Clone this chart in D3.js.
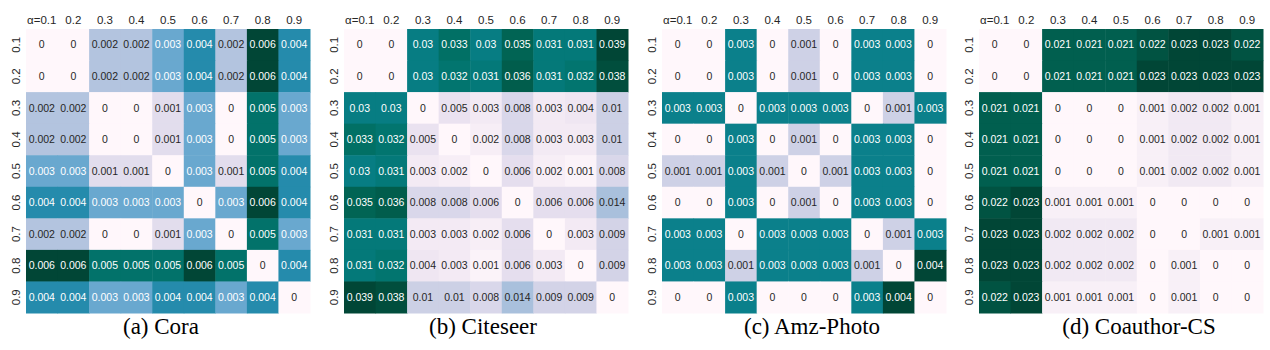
<!DOCTYPE html>
<html>
<head>
<meta charset="utf-8">
<script src="https://cdn.jsdelivr.net/npm/d3@7"></script>
<style>
  body { margin: 0; background: #fff; }
  svg { display: block; }
  .tick text { font-family: "Liberation Sans", Arial, sans-serif; font-size: 11.5px; fill: #262626; }
  .cellText { font-family: "Liberation Sans", Arial, sans-serif; font-size: 10.5px; }
</style>
</head>
<body>
<div id="chart"></div>
<script>
// data vars
const alphas = [0.1, 0.2, 0.3, 0.4, 0.5, 0.6, 0.7, 0.8, 0.9];
const colLabels = ["α=0.1", "0.2", "0.3", "0.4", "0.5", "0.6", "0.7", "0.8", "0.9"];
const rowLabels = ["0.1", "0.2", "0.3", "0.4", "0.5", "0.6", "0.7", "0.8", "0.9"];
const captions = ["(a) Cora", "(b) Citeseer", "(c) Amz-Photo", "(d) Coauthor-CS"];

const coraValues = [
  [0, 0, .002, .002, .003, .004, .002, .006, .004],
  [0, 0, .002, .002, .003, .004, .002, .006, .004],
  [.002, .002, 0, 0, .001, .003, 0, .005, .003],
  [.002, .002, 0, 0, .001, .003, 0, .005, .003],
  [.003, .003, .001, .001, 0, .003, .001, .005, .004],
  [.004, .004, .003, .003, .003, 0, .003, .006, .004],
  [.002, .002, 0, 0, .001, .003, 0, .005, .003],
  [.006, .006, .005, .005, .005, .006, .005, 0, .004],
  [.004, .004, .003, .003, .004, .004, .003, .004, 0]
];

const citeseerValues = [
  [0, 0, .03, .033, .03, .035, .031, .031, .039],
  [0, 0, .03, .032, .031, .036, .031, .032, .038],
  [.03, .03, 0, .005, .003, .008, .003, .004, .01],
  [.033, .032, .005, 0, .002, .008, .003, .003, .01],
  [.03, .031, .003, .002, 0, .006, .002, .001, .008],
  [.035, .036, .008, .008, .006, 0, .006, .006, .014],
  [.031, .031, .003, .003, .002, .006, 0, .003, .009],
  [.031, .032, .004, .003, .001, .006, .003, 0, .009],
  [.039, .038, .01, .01, .008, .014, .009, .009, 0]
];

const amzPhotoValues = [
  [0, 0, .003, 0, .001, 0, .003, .003, 0],
  [0, 0, .003, 0, .001, 0, .003, .003, 0],
  [.003, .003, 0, .003, .003, .003, 0, .001, .003],
  [0, 0, .003, 0, .001, 0, .003, .003, 0],
  [.001, .001, .003, .001, 0, .001, .003, .003, 0],
  [0, 0, .003, 0, .001, 0, .003, .003, 0],
  [.003, .003, 0, .003, .003, .003, 0, .001, .003],
  [.003, .003, .001, .003, .003, .003, .001, 0, .004],
  [0, 0, .003, 0, 0, 0, .003, .004, 0]
];

const coauthorCsValues = [
  [0, 0, .021, .021, .021, .022, .023, .023, .022],
  [0, 0, .021, .021, .021, .023, .023, .023, .023],
  [.021, .021, 0, 0, 0, .001, .002, .002, .001],
  [.021, .021, 0, 0, 0, .001, .002, .002, .001],
  [.021, .021, 0, 0, 0, .001, .002, .002, .001],
  [.022, .023, .001, .001, .001, 0, 0, 0, 0],
  [.023, .023, .002, .002, .002, 0, 0, .001, .001],
  [.023, .023, .002, .002, .002, 0, .001, 0, 0],
  [.022, .023, .001, .001, .001, 0, .001, 0, 0]
];

const panels = [coraValues, citeseerValues, amzPhotoValues, coauthorCsValues];

// constants
const width = 1270;
const height = 350;
const panelLeft = [26, 344, 662, 979];
const captionX = [161, 483, 812, 1139];
const gridTop = 29;
const gridSize = 284;

const svg = d3.select("#chart")
  .append("svg")
  .attr("width", width)
  .attr("height", height);

// seaborn-like text colour pick: dark text on light cells
function textColor(c) {
  const rgb = d3.rgb(c);
  const lin = v => {
    v = v / 255;
    return v <= 0.03928 ? v / 12.92 : Math.pow((v + 0.055) / 1.055, 2.4);
  };
  const lum = 0.2126 * lin(rgb.r) + 0.7152 * lin(rgb.g) + 0.0722 * lin(rgb.b);
  return lum > 0.408 ? "#262626" : "#ffffff";
}

const fmt = v => String(+v.toFixed(3));

panels.forEach((matrix, p) => {
  const left = panelLeft[p];

  const x = d3.scaleBand()
    .domain(alphas)
    .range([left, left + gridSize]);

  const y = d3.scaleBand()
    .domain(alphas)
    .range([gridTop, gridTop + gridSize]);

  const color = d3.scaleSequential(d3.interpolatePuBuGn)
    .domain([0, d3.max(matrix.flat())]);

  const cells = [];
  matrix.forEach((row, i) => {
    row.forEach((v, j) => {
      cells.push({ r: alphas[i], c: alphas[j], v: v });
    });
  });

  const g = svg.append("g");

  g.selectAll("rect")
    .data(cells)
    .join("rect")
    .attr("x", d => x(d.c))
    .attr("y", d => y(d.r))
    .attr("width", x.bandwidth() + 0.5)
    .attr("height", y.bandwidth() + 0.5)
    .attr("fill", d => color(d.v));

  g.selectAll("text.cellText")
    .data(cells)
    .join("text")
    .attr("class", "cellText")
    .attr("x", d => x(d.c) + x.bandwidth() / 2)
    .attr("y", d => y(d.r) + y.bandwidth() / 2)
    .attr("dy", "0.35em")
    .attr("text-anchor", "middle")
    .attr("fill", d => textColor(color(d.v)))
    .text(d => fmt(d.v));

  // column labels
  g.append("g")
    .attr("transform", `translate(0, ${gridTop - 4})`)
    .call(d3.axisTop(x).tickSize(0).tickFormat((d, i) => colLabels[i]))
    .call(g => g.select(".domain").remove())
    .call(g => g.selectAll(".tick text").attr("y", -1));

  // row labels, rotated
  g.append("g")
    .attr("transform", `translate(${left - 4}, 0)`)
    .call(d3.axisLeft(y).tickSize(0).tickFormat((d, i) => rowLabels[i]))
    .call(g => g.select(".domain").remove())
    .call(g => g.selectAll(".tick text")
      .attr("x", 0)
      .attr("dy", 0)
      .attr("transform", "translate(-2, 0) rotate(-90)")
      .attr("text-anchor", "middle"));

  svg.append("text")
    .attr("x", captionX[p])
    .attr("y", 334)
    .attr("text-anchor", "middle")
    .style("font-family", "'Liberation Serif', 'Times New Roman', Times, 'DejaVu Serif', serif")
    .style("font-size", "23px")
    .style("fill", "#000")
    .text(captions[p]);
});
</script>
</body>
</html>
